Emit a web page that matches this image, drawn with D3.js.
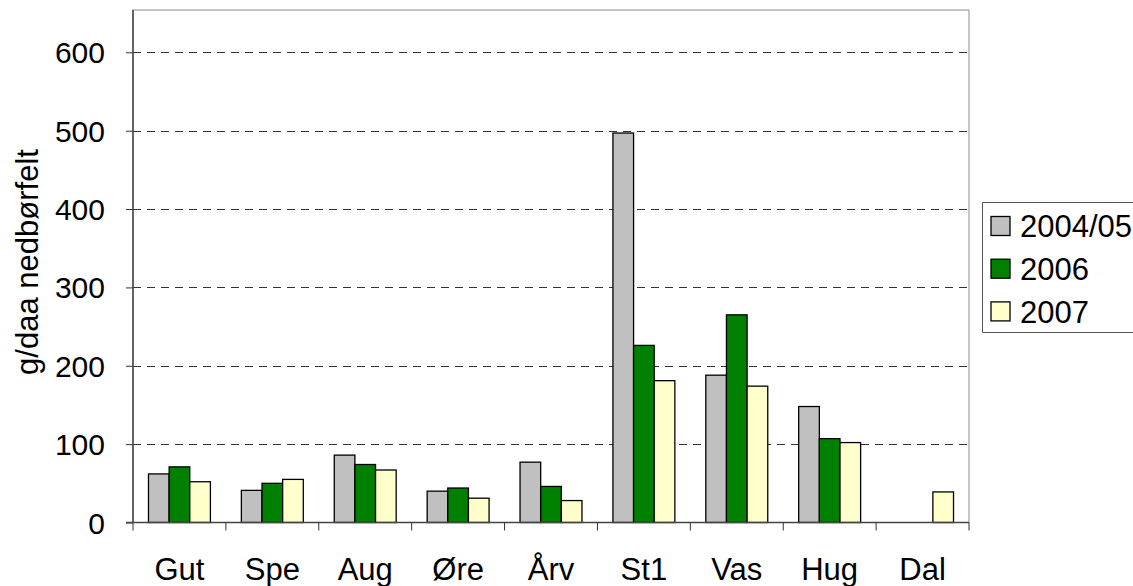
<!DOCTYPE html>
<html>
<head>
<meta charset="utf-8">
<script src="https://cdn.jsdelivr.net/npm/d3@7"></script>
<style>
  body { margin: 0; background: #fff; overflow: hidden; }
  svg { display: block; }
  svg text { font-family: "Liberation Sans", Arial, sans-serif; fill: #000; }
</style>
</head>
<body>
<div id="chart"></div>
<script>
// Values (g/daa nedbørfelt)
const categories = ["Gut", "Spe", "Aug", "Øre", "Årv", "St1", "Vas", "Hug", "Dal"];
const seriesNames = ["2004/05", "2006", "2007"];
const values2004 = [62, 41, 86, 40, 77, 497, 188, 148, null];
const values2006 = [71, 50, 74, 44, 46, 226, 265, 107, null];
const values2007 = [52, 55, 67, 31, 28, 181, 174, 102, 39];
const seriesColors = ["#c0c0c0", "#008000", "#ffffcc"];
const yTicks = [0, 100, 200, 300, 400, 500, 600];

const width = 1133, height = 586;
const margin = { top: 10, right: 164, bottom: 63.5, left: 133 };
const fontSize = 31;
const tickFontSize = 30;

const svg = d3.select("#chart").append("svg")
  .attr("width", width)
  .attr("height", height);

const x0 = d3.scaleBand()
  .domain(categories)
  .range([margin.left, width - margin.right]);

// bars take the middle two thirds of each category
const x1 = d3.scaleBand()
  .domain(seriesNames)
  .range([x0.bandwidth() / 6, x0.bandwidth() * 5 / 6]);

const y = d3.scaleLinear()
  .domain([0, 654])
  .range([height - margin.bottom, margin.top]);

// plot frame (top and right edges are light gray)
svg.append("rect")
  .attr("x", margin.left)
  .attr("y", margin.top)
  .attr("width", width - margin.right - margin.left)
  .attr("height", height - margin.bottom - margin.top)
  .attr("fill", "none")
  .attr("stroke", "#8c8c8c")
  .attr("stroke-width", 1);

// dashed gridlines
svg.append("g")
  .selectAll("line")
  .data(yTicks.filter(d => d > 0))
  .join("line")
  .attr("x1", margin.left)
  .attr("x2", width - margin.right)
  .attr("y1", d => Math.round(y(d)) + 0.5)
  .attr("y2", d => Math.round(y(d)) + 0.5)
  .attr("stroke", "#333")
  .attr("stroke-width", 1)
  .attr("stroke-dasharray", "8,6");

// bars
const seriesData = [values2004, values2006, values2007];
const groups = svg.append("g")
  .selectAll("g")
  .data(categories)
  .join("g")
  .attr("transform", d => `translate(${x0(d)},0)`);

groups.selectAll("rect")
  .data((c, i) => seriesNames.map((s, j) => ({ key: s, value: seriesData[j][i], color: seriesColors[j] })))
  .join("rect")
  .filter(d => d.value != null)
  .attr("x", d => x1(d.key))
  .attr("y", d => y(d.value))
  .attr("width", x1.bandwidth())
  .attr("height", d => y(0) - y(d.value))
  .attr("fill", d => d.color)
  .attr("stroke", "#000")
  .attr("stroke-width", 1.3);

// y axis
const yAxis = svg.append("g")
  .attr("transform", `translate(${margin.left},0)`)
  .call(d3.axisLeft(y).tickValues(yTicks).tickSize(7).tickPadding(21));
yAxis.select(".domain").remove();
yAxis.selectAll(".tick line").attr("stroke", "#333");
yAxis.selectAll(".tick text")
  .style("font-size", tickFontSize + "px")
  .attr("dy", "0.35em");
yAxis.append("line")
  .attr("x1", 0).attr("x2", 0)
  .attr("y1", margin.top).attr("y2", y(0))
  .attr("stroke", "#444")
  .attr("stroke-width", 1.5);

// x axis: baseline, boundary ticks and labels
const xAxis = svg.append("g");
xAxis.append("line")
  .attr("x1", margin.left - 7)
  .attr("x2", width - margin.right)
  .attr("y1", y(0)).attr("y2", y(0))
  .attr("stroke", "#444")
  .attr("stroke-width", 1.5);
xAxis.selectAll(".xtick")
  .data(categories.map(c => x0(c)).concat([x0.range()[1]]))
  .join("line")
  .attr("class", "xtick")
  .attr("x1", d => d).attr("x2", d => d)
  .attr("y1", y(0)).attr("y2", y(0) + 8)
  .attr("stroke", "#333");
xAxis.selectAll(".xlabel")
  .data(categories)
  .join("text")
  .attr("class", "xlabel")
  .attr("x", d => x0(d) + x0.bandwidth() / 2)
  .attr("y", 580)
  .attr("text-anchor", "middle")
  .style("font-size", fontSize + "px")
  .text(d => d);

// y axis title
svg.append("text")
  .attr("transform", "translate(38,262) rotate(-90)")
  .attr("text-anchor", "middle")
  .style("font-size", fontSize + "px")
  .text("g/daa nedbørfelt");

// legend (runs off the right edge, as in the original)
const legend = svg.append("g").attr("transform", "translate(982,202)");
legend.append("path")
  .attr("d", "M200,0.5H0.5V130.5H200")
  .attr("fill", "#fff")
  .attr("stroke", "#555");
const items = legend.selectAll(".item")
  .data(seriesNames)
  .join("g")
  .attr("class", "item")
  .attr("transform", (d, i) => `translate(0,${24 + i * 42.7})`);
items.append("rect")
  .attr("x", 9).attr("y", -9.5)
  .attr("width", 19).attr("height", 19)
  .attr("fill", (d, i) => seriesColors[i])
  .attr("stroke", "#000")
  .attr("stroke-width", 1.3);
items.append("text")
  .attr("x", 38)
  .attr("dy", "0.36em")
  .style("font-size", fontSize + "px")
  .text(d => d);
</script>
</body>
</html>
